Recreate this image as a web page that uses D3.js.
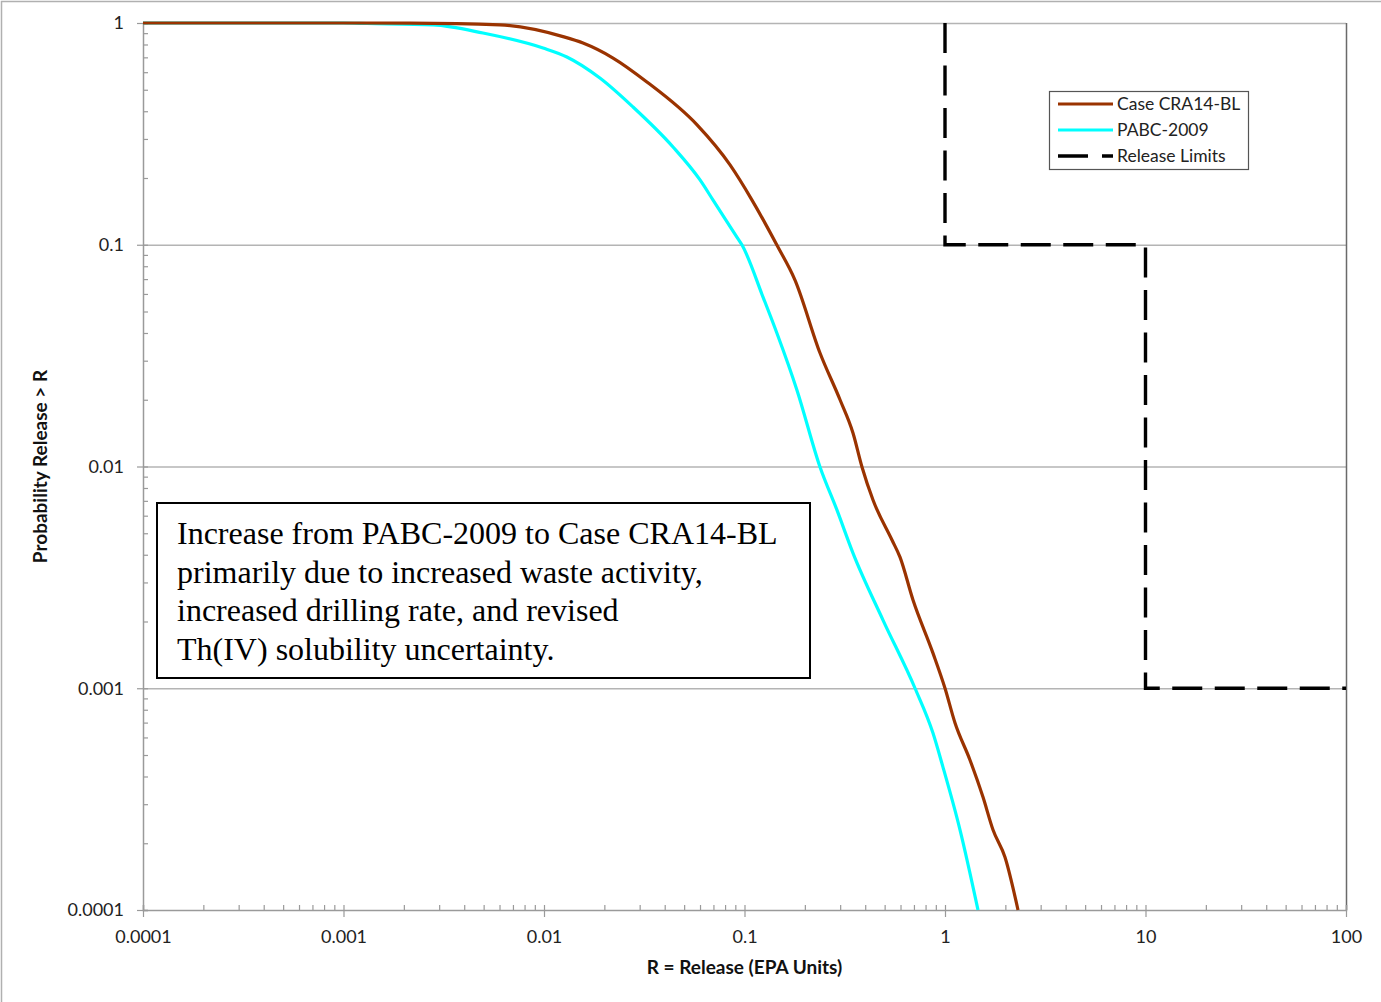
<!DOCTYPE html>
<html lang="en">
<head>
    <meta charset="UTF-8">
    <title>CCDF of Total Normalized Releases</title>
    <style>
        body { margin: 0; background: #fff; }
        svg { display: block; }
    </style>
</head>
<body>
<div id="chart-area"></div>
<script src="https://d3js.org/d3.v7.min.js"></script>
<script>

    // Case CRA14-BL: [release R, probability > R]
    const craX = [0.0001, 0.001, 0.00215, 0.00603, 0.01244, 0.01565, 0.0221, 0.0326, 0.058, 0.0847, 0.109, 0.145,
        0.1786, 0.238, 0.2995, 0.3476, 0.3855, 0.4375, 0.544, 0.5965, 0.6925, 0.871, 1.0, 1.122, 1.332, 1.547,
        1.735, 1.992, 2.313];
    const craP = [1, 1, 0.999, 0.98, 0.868, 0.812, 0.695, 0.542, 0.347, 0.229, 0.159, 0.0997,
        0.0693, 0.0325, 0.02, 0.01417, 0.00995, 0.00706, 0.00466, 0.0039, 0.0025, 0.00144, 0.001, 0.000697,
        0.000475, 0.000323, 0.00023, 0.000173, 0.0001];

    // PABC-2009
    const pabcX = [0.0001, 0.001, 0.00131, 0.0028, 0.00496, 0.00989, 0.013, 0.019, 0.0278, 0.044, 0.06, 0.0697,
        0.0918, 0.0972, 0.1237, 0.145, 0.1827, 0.238, 0.289, 0.3476, 0.4906, 0.7087, 0.871, 0.977, 1.188, 1.461];
    const pabcP = [1, 1, 0.995, 0.98, 0.901, 0.771, 0.703, 0.565, 0.418, 0.276, 0.196, 0.159,
        0.108, 0.0997, 0.0581, 0.04, 0.0221, 0.00995, 0.00637, 0.00407, 0.00203, 0.001, 0.000628, 0.000441,
        0.00023, 0.0001];

    // EPA release limits (step)
    const limitX = [1, 1, 10, 10, 100];
    const limitP = [1, 0.1, 0.1, 0.001, 0.001];

    const xTickValues = [0.0001, 0.001, 0.01, 0.1, 1, 10, 100];
    const xTickLabels = ['0.0001', '0.001', '0.01', '0.1', '1', '10', '100'];
    const yTickValues = [0.0001, 0.001, 0.01, 0.1, 1];
    const yTickLabels = ['0.0001', '0.001', '0.01', '0.1', '1'];

    const seriesNames = ['Case CRA14-BL', 'PABC-2009', 'Release Limits'];
    const seriesColors = ['#9a3300', '#00ffff', '#000000'];

    const noteLines = [
        'Increase from PABC-2009 to Case CRA14-BL',
        'primarily due to increased waste activity,',
        'increased drilling rate, and revised',
        'Th(IV) solubility uncertainty.'
    ];

    const outerWidth = 1381;
    const outerHeight = 1002;
    const margin = {top: 23, right: 35, bottom: 92, left: 143};
    const width = outerWidth - margin.left - margin.right;
    const height = outerHeight - margin.top - margin.bottom;
    const labelFont = 'Lato, "Open Sans", sans-serif';

    const svg = d3.select('#chart-area').append('svg')
        .attr('width', outerWidth)
        .attr('height', outerHeight);

    // image frame (top + left edges)
    svg.append('path')
        .attr('d', `M1.5,${outerHeight} V1.5 H${outerWidth}`)
        .attr('fill', 'none')
        .attr('stroke', '#b0b0b0')
        .attr('stroke-width', 1.5);

    const g = svg.append('g')
        .attr('transform', `translate(${margin.left}, ${margin.top})`);

    const xScale = d3.scaleLog().domain([0.0001, 100]).range([0, width]);
    const yScale = d3.scaleLog().domain([0.0001, 1]).range([height, 0]);

    const minorOf = (majors) => {
        const out = [];
        majors.slice(0, -1).forEach(m => {
            for (let k = 2; k <= 9; k++) out.push(m * k);
        });
        return out;
    };

    // horizontal gridlines
    g.append('g')
        .selectAll('line')
        .data(yTickValues.slice(1))
        .join('line')
        .attr('x1', 0)
        .attr('x2', width)
        .attr('y1', d => yScale(d) + 0.5)
        .attr('y2', d => yScale(d) + 0.5)
        .attr('stroke', '#b4b4b4')
        .attr('stroke-width', 1.5);

    // right frame
    g.append('line')
        .attr('x1', width + 0.5).attr('x2', width + 0.5)
        .attr('y1', 0).attr('y2', height)
        .attr('stroke', '#6a6a6a')
        .attr('stroke-width', 1.5);

    // x axis: minor ticks inside, major cross
    const gxMinor = g.append('g')
        .attr('transform', `translate(0, ${height})`)
        .call(d3.axisBottom(xScale).tickValues(minorOf(xTickValues).concat(xTickValues)).tickSize(-5).tickFormat(''));
    const gx = g.append('g')
        .attr('transform', `translate(0, ${height})`)
        .call(d3.axisBottom(xScale).tickValues(xTickValues).tickSize(7).tickPadding(13)
            .tickFormat((d, i) => xTickLabels[i]));

    // y axis
    const gyMinor = g.append('g')
        .call(d3.axisLeft(yScale).tickValues(minorOf(yTickValues).concat(yTickValues)).tickSize(-5).tickFormat(''));
    const gy = g.append('g')
        .call(d3.axisLeft(yScale).tickValues(yTickValues).tickSize(6).tickPadding(13)
            .tickFormat((d, i) => yTickLabels[i]));

    [gxMinor, gx, gyMinor, gy].forEach(a => {
        a.selectAll('.domain').attr('stroke', '#9a9a9a').attr('stroke-width', 1.5);
        a.selectAll('.tick line').attr('stroke', '#9a9a9a').attr('stroke-width', 1.2);
        a.selectAll('.tick text')
            .attr('fill', '#222')
            .style('font-family', labelFont)
            .style('font-size', '18px');
    });
    gx.selectAll('.domain').remove();
    gy.selectAll('.domain').remove();

    // curves
    const line = d3.line()
        .x(d => xScale(d[0]))
        .y(d => yScale(d[1]))
        .curve(d3.curveMonotoneX);

    const stepLine = d3.line()
        .x(d => xScale(d[0]))
        .y(d => yScale(d[1]));

    const craData = d3.zip(craX, craP);
    const pabcData = d3.zip(pabcX, pabcP);
    const limitData = d3.zip(limitX, limitP);

    g.append('path')
        .datum(pabcData)
        .attr('d', line)
        .attr('fill', 'none')
        .attr('stroke', seriesColors[1])
        .attr('stroke-width', 3.2)
        .attr('stroke-linejoin', 'round');

    g.append('path')
        .datum(craData)
        .attr('d', line)
        .attr('fill', 'none')
        .attr('stroke', seriesColors[0])
        .attr('stroke-width', 3.2)
        .attr('stroke-linejoin', 'round');

    g.append('path')
        .datum(limitData)
        .attr('d', stepLine)
        .attr('fill', 'none')
        .attr('stroke', seriesColors[2])
        .attr('stroke-width', 3.4)
        .attr('stroke-dasharray', '30,12.5');

    // axis titles
    svg.append('text')
        .attr('transform', `translate(47, ${margin.top + height / 2}) rotate(-90)`)
        .attr('text-anchor', 'middle')
        .style('font-family', labelFont)
        .style('font-size', '19px')
        .style('font-weight', 'bold')
        .attr('fill', '#111')
        .text('Probability Release > R');

    svg.append('text')
        .attr('x', margin.left + width / 2)
        .attr('y', 974)
        .attr('text-anchor', 'middle')
        .style('font-family', labelFont)
        .style('font-size', '19px')
        .style('font-weight', 'bold')
        .attr('fill', '#111')
        .text('R = Release (EPA Units)');

    // legend
    const legend = svg.append('g').attr('transform', 'translate(1049, 91)');
    legend.append('rect')
        .attr('x', 0.5).attr('y', 0.5)
        .attr('width', 199).attr('height', 78)
        .attr('fill', '#fff')
        .attr('stroke', '#555')
        .attr('stroke-width', 1.2);

    const legItem = legend.selectAll('.leg')
        .data(seriesNames)
        .join('g')
        .attr('class', 'leg')
        .attr('transform', (d, i) => `translate(0, ${13 + i * 26})`);

    legItem.append('line')
        .attr('x1', 9).attr('x2', 64)
        .attr('y1', 0).attr('y2', 0)
        .attr('stroke', (d, i) => seriesColors[i])
        .attr('stroke-width', (d, i) => i === 2 ? 3.4 : 3.2)
        .attr('stroke-dasharray', (d, i) => i === 2 ? '30,14' : null);

    legItem.append('text')
        .attr('x', 68)
        .attr('y', 0)
        .attr('dy', '0.35em')
        .style('font-family', labelFont)
        .style('font-size', '17.5px')
        .attr('fill', '#222')
        .text(d => d);

    // annotation box
    const note = svg.append('g').attr('transform', 'translate(157, 503)');
    note.append('rect')
        .attr('x', 0).attr('y', 0)
        .attr('width', 653).attr('height', 175)
        .attr('fill', '#fff')
        .attr('stroke', '#000')
        .attr('stroke-width', 2);

    note.selectAll('text')
        .data(noteLines)
        .join('text')
        .attr('x', 20)
        .attr('y', (d, i) => 41 + i * 38.7)
        .style('font-family', '"Liberation Serif", "Times New Roman", serif')
        .style('font-size', '32px')
        .attr('fill', '#000')
        .text(d => d);

</script>
</body>
</html>
